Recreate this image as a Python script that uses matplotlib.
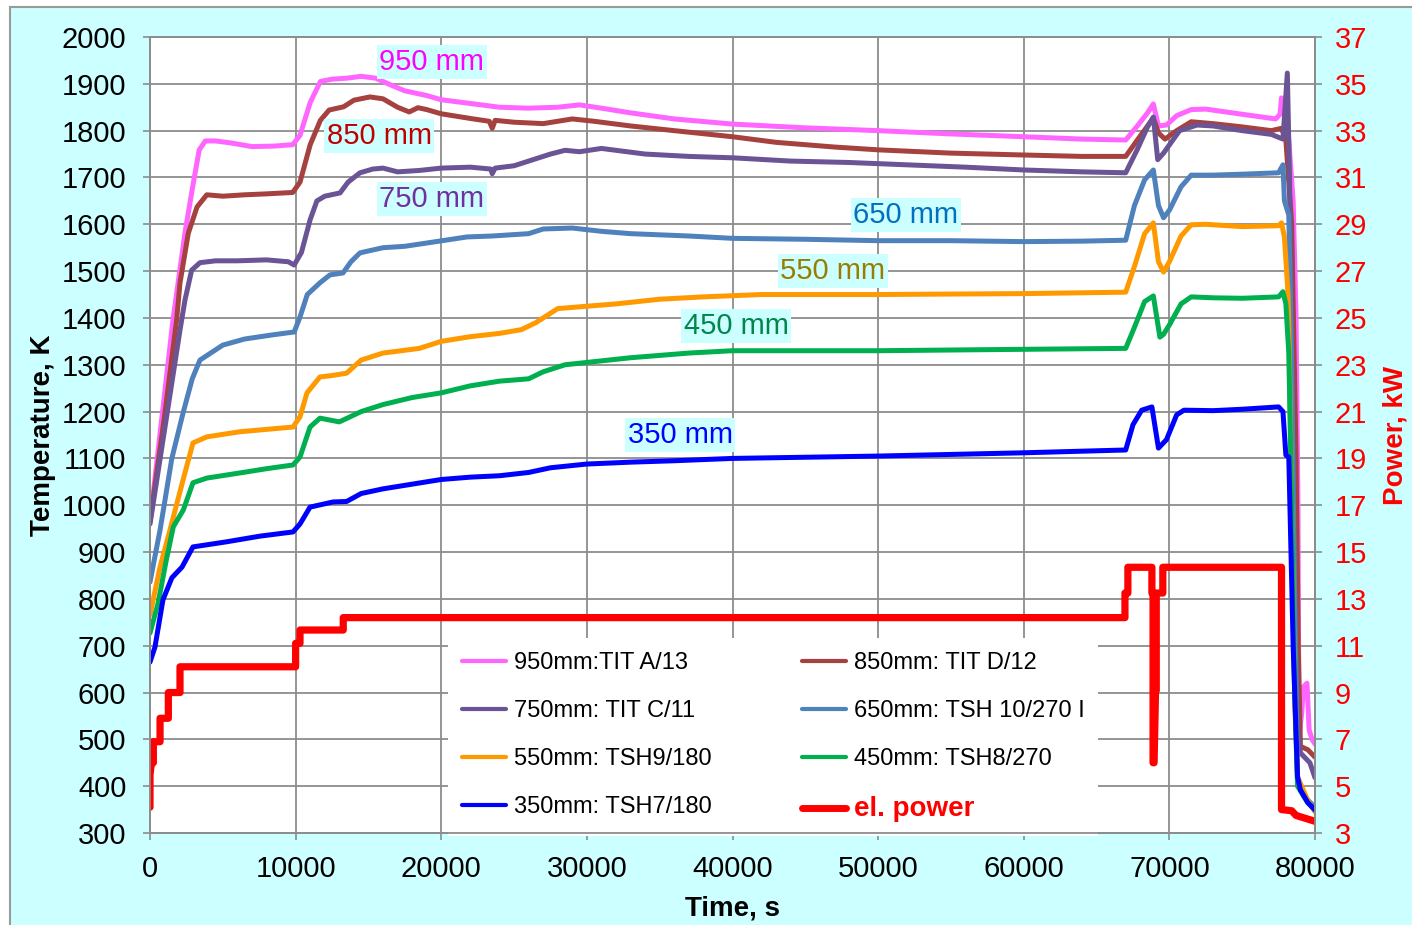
import matplotlib.pyplot as plt
from matplotlib.patches import Rectangle

plt.rcParams['font.family'] = ['Liberation Sans', 'DejaVu Sans']

# thermocouple readings: time [s] / temperature [K]
t_950 = [0, 1580, 2400, 2930, 3380, 3800, 4500, 5500, 7000, 8500, 9800, 10300, 11000, 11700, 12500,
         13500, 14500, 15500, 16500, 17500, 19000, 20000, 22000, 24000, 26000, 28000, 29500, 31000,
         33000, 36000, 40000, 45000, 50000, 55000, 60000, 64000, 67000, 67800, 68500, 68900, 69250,
         69800, 70500, 71500, 72500, 75000, 77300, 77600, 77700, 77800, 78200, 78500, 78700, 78830,
         78900, 79100, 79200, 79450, 79600, 79800, 80000]
T_950 = [965, 1396, 1581, 1680, 1759, 1778, 1778, 1774, 1766, 1767, 1770, 1790, 1860, 1905, 1910,
         1912, 1916, 1912, 1898, 1885, 1875, 1866, 1858, 1850, 1848, 1850, 1855, 1848,
         1838, 1825, 1814, 1806, 1800, 1793, 1787, 1782, 1780, 1810, 1838, 1857, 1810,
         1812, 1832, 1845, 1846, 1835, 1825, 1835, 1870, 1860, 1780, 1650, 1400, 1000,
         505, 560, 612, 620, 520, 500, 490]

t_850 = [0, 1000, 1830, 2060, 2630, 3230, 3900, 5000, 6500, 8000, 9800, 10300, 11000, 11700, 12300,
         13300, 14000, 15100, 16000, 17000, 17800, 18400, 19000, 20000, 22000, 23300, 23500, 23700,
         25000, 27000, 29000, 30500, 33000, 36000, 40000, 43000, 47000, 50000, 55000, 60000, 64000,
         67000, 67800, 68500, 68900, 69250, 69700, 70500, 71500, 73000, 75000, 77000, 77700, 78000,
         78400, 78700, 78850, 79000, 79500, 80000]
T_850 = [965, 1190, 1396, 1475, 1581, 1637, 1663, 1660, 1663, 1665, 1668, 1690, 1770, 1822, 1844,
         1851, 1865, 1872, 1868, 1850, 1840, 1849, 1845, 1836, 1826, 1820, 1805, 1822,
         1818, 1815, 1825, 1820, 1810, 1800, 1787, 1775, 1765, 1759, 1752, 1748, 1745,
         1745, 1780, 1810, 1827, 1795, 1782, 1800, 1819, 1815, 1808, 1800, 1805, 1780,
         1600, 1100, 700, 485, 478, 462]

t_750 = [0, 2060, 2400, 2860, 3430, 4500, 6000, 8000, 9500, 9900, 10400, 11000, 11460, 12000, 13050,
         13600, 14420, 15300, 16000, 17000, 18500, 20000, 22000, 23400, 23500, 23700, 25000, 26000,
         27500, 28500, 29500, 31000, 32000, 34000, 37000, 40000, 44000, 48000, 52000, 56000, 60000,
         64000, 67000, 67800, 68500, 68900, 69200, 69600, 70700, 71900, 73000, 75000, 77000, 77800,
         78100, 78250, 78400, 78600, 78800, 79000, 79650, 80000]
T_750 = [960, 1374, 1438, 1502, 1518, 1522, 1522, 1524, 1520, 1513, 1540, 1610, 1650, 1660, 1667,
         1690, 1710, 1718, 1720, 1712, 1715, 1720, 1722, 1718, 1708, 1720, 1725, 1735,
         1750, 1758, 1755, 1762, 1758, 1750, 1745, 1742, 1735, 1732, 1727, 1722, 1716,
         1712, 1710, 1760, 1808, 1829, 1738, 1752, 1800, 1812, 1810, 1800, 1792, 1782,
         1923, 1700, 1300, 800, 520, 471, 450, 418]

t_650 = [0, 690, 1500, 2270, 2900, 3430, 5000, 6500, 8450, 9900, 10300, 10800, 11670, 12360, 13250,
         13800, 14420, 16000, 17500, 19430, 21770, 23500, 25000, 26000, 27000, 29000, 31000, 33000,
         37000, 40000, 45000, 50000, 55000, 60000, 64000, 67000, 67600, 68300, 68900, 69250, 69600,
         70000, 70800, 71500, 73000, 75000, 77500, 77800, 77900, 78200, 78400, 78600, 78800, 79200,
         80000]
T_650 = [836, 947, 1100, 1197, 1270, 1310, 1342, 1355, 1364, 1370, 1402, 1450, 1475, 1492, 1496,
         1520, 1539, 1550, 1553, 1562, 1573, 1575, 1578, 1580, 1590, 1592, 1585, 1580,
         1575, 1570, 1568, 1565, 1565, 1563, 1564, 1566, 1640, 1695, 1716, 1640, 1614,
         1630, 1680, 1705, 1705, 1707, 1710, 1727, 1650, 1620, 1300, 800, 420, 380,
         355]

t_550 = [0, 690, 1370, 2270, 2950, 3900, 6180, 8000, 9820, 10300, 10780, 11670, 12500, 13500, 14500,
         16000, 18500, 20000, 22000, 24000, 25500, 26500, 27000, 28000, 30000, 32000, 35000, 38000,
         42000, 50000, 60000, 67000, 67600, 68300, 68900, 69250, 69600, 70000, 70800, 71500, 72500,
         75000, 77500, 77700, 77900, 78150, 78250, 78400, 78600, 78800, 79500, 80000]
T_550 = [766, 868, 947, 1054, 1133, 1146, 1157, 1162, 1167, 1189, 1240, 1274, 1277, 1282, 1310,
         1325, 1335, 1350, 1360, 1367, 1375, 1390, 1400, 1420, 1425, 1430, 1440, 1445,
         1450, 1450, 1452, 1455, 1510, 1580, 1603, 1520, 1498, 1520, 1575, 1599, 1600,
         1595, 1597, 1603, 1573, 1450, 1300, 1000, 600, 420, 370, 345]

t_450 = [0, 550, 1100, 1600, 2290, 2950, 3900, 6180, 8000, 9820, 10300, 10990, 11670, 13000, 14500,
         16000, 18000, 20000, 22000, 24000, 26000, 27000, 28500, 30000, 33000, 37000, 40000, 50000,
         60000, 67000, 67600, 68300, 68900, 69350, 69600, 70000, 70800, 71500, 73000, 75000, 77500,
         77800, 78000, 78200, 78400, 78600, 78800, 79500, 80000]
T_450 = [727, 790, 880, 954, 990, 1048, 1058, 1069, 1078, 1086, 1103, 1167, 1186, 1178, 1200,
         1215, 1230, 1240, 1255, 1265, 1270, 1285, 1300, 1305, 1315, 1325, 1330, 1330,
         1333, 1335, 1380, 1435, 1447, 1359, 1365, 1385, 1430, 1445, 1443, 1442, 1445,
         1456, 1430, 1325, 1000, 600, 400, 365, 350]

t_350 = [0, 340, 890, 1500, 2200, 2950, 5280, 7550, 9820, 10300, 10990, 12570, 13500, 14500, 16000,
         18000, 20000, 22000, 24000, 26000, 27500, 30000, 33000, 36000, 40000, 50000, 60000, 67000,
         67500, 68100, 68800, 69250, 69800, 70500, 71000, 73000, 75000, 77500, 77800, 78000, 78200,
         78500, 78800, 79000, 79500, 80000]
T_350 = [665, 697, 798, 845, 868, 911, 922, 934, 943, 960, 996, 1007, 1008, 1025, 1035,
         1045, 1055, 1060, 1063, 1070, 1080, 1088, 1092, 1095, 1100, 1105, 1112, 1118,
         1172, 1203, 1210, 1122, 1140, 1193, 1203, 1202, 1205, 1210, 1200, 1107, 1103,
         700, 420, 392, 365, 349]

# electrical power [kW]
t_pow = [0, 0, 100, 230, 230, 690, 690, 1260, 1260, 2060, 2060, 10000, 10000, 10300, 10300,
         13270, 13270, 66950, 66950, 67150, 67150, 68800, 68800, 68880, 68880, 68950, 69050, 69100,
         69100, 69550, 69550, 77700, 77700, 78400, 78700, 80000]
P_pow = [4.1, 5.5, 6.0, 6.0, 6.9, 6.9, 7.9, 7.9, 9.0, 9.0, 10.1, 10.1, 11.1, 11.1, 11.67,
         11.67, 12.2, 12.2, 13.25, 13.25, 14.35, 14.35, 13.25, 13.25, 6.0, 6.0, 9.1, 9.1,
         13.25, 13.25, 14.35, 14.35, 4.0, 3.95, 3.75, 3.5]

names = ['950mm:TIT A/13', '850mm: TIT D/12', '750mm: TIT C/11', '650mm: TSH 10/270 I',
         '550mm: TSH9/180', '450mm: TSH8/270', '350mm: TSH7/180']
colors = ['#FF66FF', '#A5423F', '#6A5495', '#4F81BD', '#FF9900', '#00B050', '#0000FF']
series = [(t_950, T_950), (t_850, T_850), (t_750, T_750), (t_650, T_650),
          (t_550, T_550), (t_450, T_450), (t_350, T_350)]

lab_text = ['950 mm', '850 mm', '750 mm', '650 mm', '550 mm', '450 mm', '350 mm']
lab_x = [19360, 15730, 19360, 51910, 46900, 40240, 36400]
lab_y = [1947, 1789, 1654, 1620, 1500, 1383, 1150]
lab_col = ['#FF00FF', '#C00000', '#7030A0', '#0070C0', '#9A7D00', '#00864B', '#0000FF']

W, H = 1412, 925
grey = '#8C8C8C'
fig = plt.figure(figsize=(W / 100, H / 100), dpi=100, facecolor='white')
fig.patches.append(Rectangle((10 / W, -0.1), 1.2, 1.1 - 7 / H, transform=fig.transFigure,
                             fc='#CCFFFF', ec='#9A9A9A', lw=1.5, zorder=-10))

ax = fig.add_axes([150 / W, 92 / H, 1165 / W, 796 / H])
ax.set_facecolor('white')
handles = []
for (t, T), c, n in zip(series, colors, names):
    h, = ax.plot(t, T, color=c, lw=3.6, label=n, solid_capstyle='round')
    handles.append(h)

ax.set_xlim(0, 80000)
ax.set_ylim(300, 2000)
ax.set_xticks(range(0, 80001, 10000))
ax.set_yticks(range(300, 2001, 100))
ax.grid(True, color=grey, lw=1.3)
ax.set_axisbelow(True)
for s in ax.spines.values():
    s.set_color(grey)
    s.set_linewidth(1.3)
ax.tick_params(axis='both', direction='out', length=5, width=1.2, color=grey, labelsize=21)
ax.tick_params(axis='y', pad=12)
ax.tick_params(axis='x', pad=11)

for txt, x, y, c in zip(lab_text, lab_x, lab_y, lab_col):
    ax.text(x, y, txt, color=c, fontsize=21, ha='center', va='center',
            bbox=dict(boxstyle='square,pad=0.1', fc='#CCFFFF', ec='none'))

ax.set_xlabel('Time, s', fontsize=20, fontweight='bold')
ax.xaxis.set_label_coords(0.5, -0.095)
ax.xaxis.label.set_va('center')
ax.set_ylabel('Temperature, K', fontsize=20, fontweight='bold')
ax.yaxis.set_label_coords(-0.092, 0.5)
ax.yaxis.label.set_va('center')

ax2 = ax.twinx()
hp, = ax2.plot(t_pow, P_pow, color='#FF0000', lw=5.2, label='el. power', solid_capstyle='round')
ax2.set_ylim(3, 37)
ax2.set_yticks(range(3, 38, 2))
ax2.tick_params(axis='y', direction='out', length=5, width=1.2, color=grey, labelsize=21,
                labelcolor='#FF0000', pad=9)
for s in ax2.spines.values():
    s.set_color(grey)
    s.set_linewidth(1.3)
    s.set_zorder(10)   # keep the frame visible over the legend box
ax2.set_ylabel('Power, kW', fontsize=20, fontweight='bold', color='#FF0000')
ax2.yaxis.set_label_coords(1.0687, 0.5)
ax2.yaxis.label.set_va('center')

# legend filled row by row like the original
order = [handles[0], handles[2], handles[4], handles[6], handles[1], handles[3], handles[5], hp]
leg = ax2.legend(order, [h.get_label() for h in order], ncol=2, loc='upper left',
                 bbox_to_anchor=(0.2558, 0.2449), borderaxespad=0,
                 fontsize=17, fancybox=False, edgecolor='none', facecolor='white', framealpha=1,
                 handlelength=1.86, handletextpad=0.34, labelspacing=1.10, borderpad=0.6,
                 columnspacing=3.8)
for ln in leg.get_lines():
    ln.set_linewidth(3.0)
leg.get_lines()[-1].set_linewidth(5.0)
ptxt = leg.get_texts()[-1]
ptxt.set_color('#FF0000')
ptxt.set_fontweight('bold')
ptxt.set_fontsize(20)

fig.savefig('out.png', dpi=100, facecolor=fig.get_facecolor())
